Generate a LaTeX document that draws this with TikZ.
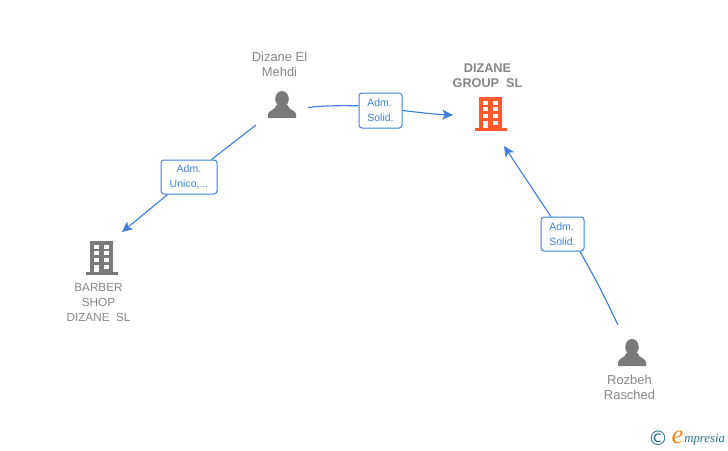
\documentclass[tikz,border=0pt]{standalone}
\usepackage{fontspec}
\setmainfont{Liberation Sans}
\newfontfamily\logofont{Liberation Serif}
\newfontfamily\signfont{DejaVu Sans}
\usepackage{xcolor}
\usetikzlibrary{arrows.meta,positioning}

\definecolor{iconGrey}{HTML}{7A7A7A}
\definecolor{textGrey}{HTML}{868686}
\definecolor{firmOrange}{HTML}{FF5A2C}
\definecolor{linkBlue}{HTML}{3F80E0}
\definecolor{logoTeal}{HTML}{2F7288}
\definecolor{logoOrange}{HTML}{F08A1D}

\tikzset{
    caption/.style={text=textGrey, align=center, font=\fontsize{9.7}{11.25}\selectfont},
    capsname/.style={text=textGrey, align=center, font=\fontsize{8.8}{11.25}\selectfont},
    role/.style={draw=linkBlue, line width=0.75pt, rounded corners=2.2pt, fill=white, text=linkBlue,
        align=left, inner sep=0pt, font=\fontsize{7.9}{11.25}\selectfont},
    link/.style={draw=linkBlue, line width=0.85pt},
    tip/.style={-{Stealth[length=8pt,width=7.5pt,inset=2pt]}},
    person/.pic={
        \fill[iconGrey] (0,8) ellipse (6.8 and 8);
        \fill[iconGrey] (-14,27) -- (-14,23) .. controls (-13.5,19) and (-7,19.5) .. (-5.5,14)
            -- (5.5,14) .. controls (7,19.5) and (13.5,19) .. (14,23) -- (14,27) -- cycle;
    },
    firm/.pic={
        \fill[pic actions] (-11.5,0) rectangle (11.5,31);
        \fill[pic actions] (-16,31) rectangle (16,34);
        \foreach \r in {3.7,10.3,17,23.7} {
            \fill[white] (-7.5,\r) rectangle (-2.5,\r+4);
            \fill[white] (2,\r) rectangle (7,\r+4);
        }
        \fill[white] (-7.5,24) rectangle (-2.5,31);
    }
}

\begin{document}
\begin{tikzpicture}[x=0.75pt, y=-0.75pt]
    \useasboundingbox (0,0) rectangle (728,450);

    % Icons
    \pic at (282,91) {person};
    \pic at (632,339) {person};
    \pic[fill=firmOrange] at (490.5,97) {firm};
    \pic[fill=iconGrey] at (101.5,241) {firm};

    % Names
    \node[caption] (mehdi) at (279.5,64.5) {Dizane El\\Mehdi};
    \node[capsname, font=\fontsize{9.5}{11.25}\selectfont\bfseries] (group) at (487.5,75.5) {DIZANE\\GROUP\ \ SL};
    \node[capsname] (barber) at (98.5,302.7) {BARBER\\SHOP\\DIZANE\ \ SL};
    \node[caption] (rozbeh) at (629.5,387.5) {Rozbeh\\Rasched};

    % Roles
    \node[role, minimum width=43pt*0.75, minimum height=35pt*0.75] (solidA) at (380.5,110.5) {Adm.\\Solid.};
    \node[role, align=center, minimum width=56pt*0.75, minimum height=34pt*0.75] (unico) at (189,177) {Adm.\\Unico,...};
    \node[role, minimum width=43pt*0.75, minimum height=34pt*0.75] (solidB) at (562.5,234) {Adm.\\Solid.};

    % Free ends
    \coordinate (mehdiOut) at (308,107.5);
    \coordinate (groupIn) at (453,115);
    \coordinate (mehdiDown) at (256,125);
    \coordinate (barberIn) at (122,232);
    \coordinate (rozbehOut) at (618,325);
    \coordinate (groupLow) at (504,146);

    % Links
    \draw[link] (mehdiOut) .. controls (325,105.5) and (342,105.5) .. (solidA.168);
    \draw[link, tip] (solidA.east) .. controls (420,112.5) and (436,114.5) .. (groupIn);
    \draw[link] (mehdiDown) -- (unico);
    \draw[link, tip] (unico) -- (barberIn);
    \draw[link] (rozbehOut) .. controls (600.5,288.5) .. (solidB.-45);
    \draw[link, tip] (solidB) -- (groupLow);

    % Logo
    \node[text=logoTeal, inner sep=0pt, font=\signfont\fontsize{15}{16}\selectfont] (copyMark) at (658,438.5) {©};
    \node[text=logoOrange, inner sep=0pt, font=\logofont\itshape\fontsize{20}{20}\selectfont] (logoE) at (677.5,437.5) {e};
    \node[text=logoTeal, inner sep=0pt, anchor=west, font=\logofont\itshape\fontsize{9.6}{12}\selectfont] (logoName) at (684,439.5) {mpresia};
\end{tikzpicture}
\end{document}
